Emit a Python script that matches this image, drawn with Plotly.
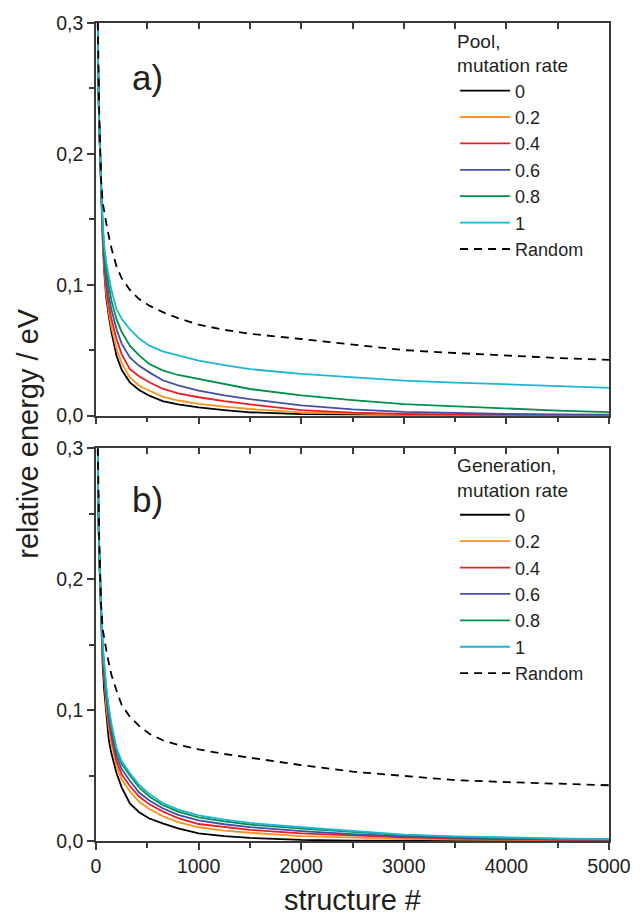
import plotly.graph_objects as go

# structure index where values were read
X = [0, 10, 20, 30, 40, 50, 65, 80, 100, 125, 150, 200, 250, 330, 420, 520, 650, 800,
     1000, 1250, 1500, 2000, 2500, 3000, 3500, 4000, 4500, 5000]

RATES = ["0", "0.2", "0.4", "0.6", "0.8", "1"]
COLORS = ["#000000", "#F7941D", "#ED1C24", "#3F51A3", "#00904A", "#1CB5D6"]

# panel a) pool
pool_0 = [0.55, 0.36, 0.27, 0.225, 0.195, 0.172, 0.135, 0.110, 0.090, 0.076, 0.064, 0.0457, 0.035, 0.0254,
          0.0195, 0.0152, 0.011, 0.0085, 0.0063, 0.0042, 0.0025, 0.0011, 0.0005, 0.0003, 0.0002, 0.0001, 0.0, 0.0]
pool_02 = [0.55, 0.36, 0.27, 0.225, 0.195, 0.173, 0.138, 0.113, 0.094, 0.079, 0.068, 0.0508, 0.040, 0.0292,
           0.023, 0.019, 0.0145, 0.0115, 0.0089, 0.0068, 0.005, 0.0025, 0.0014, 0.0008, 0.0005, 0.0003, 0.0002, 0.0001]
pool_04 = [0.55, 0.36, 0.27, 0.225, 0.195, 0.174, 0.140, 0.116, 0.098, 0.084, 0.074, 0.0584, 0.047, 0.0355,
           0.030, 0.0254, 0.0205, 0.017, 0.014, 0.011, 0.0085, 0.0042, 0.0022, 0.0012, 0.0007, 0.0004, 0.0003, 0.0002]
pool_06 = [0.55, 0.36, 0.27, 0.225, 0.196, 0.175, 0.142, 0.120, 0.104, 0.091, 0.081, 0.066, 0.055, 0.0444,
           0.038, 0.033, 0.027, 0.023, 0.019, 0.0155, 0.0125, 0.0078, 0.0048, 0.0028, 0.0018, 0.0012, 0.0009, 0.0007]
pool_08 = [0.55, 0.36, 0.27, 0.225, 0.196, 0.176, 0.145, 0.125, 0.111, 0.099, 0.088, 0.0737, 0.064, 0.0534,
           0.046, 0.0394, 0.0345, 0.031, 0.0279, 0.0238, 0.0203, 0.0155, 0.0118, 0.0088, 0.007, 0.0053, 0.0038, 0.0026]
pool_1 = [0.55, 0.36, 0.27, 0.225, 0.197, 0.177, 0.148, 0.130, 0.117, 0.105, 0.096, 0.0813, 0.074, 0.066,
          0.059, 0.0534, 0.049, 0.046, 0.0419, 0.0385, 0.0355, 0.0318, 0.029, 0.0267, 0.0252, 0.0238, 0.0225, 0.0212]
pool_random = [0.60, 0.40, 0.29, 0.235, 0.20, 0.18, 0.163, 0.155, 0.147, 0.137, 0.128, 0.114, 0.105, 0.096,
               0.089, 0.084, 0.079, 0.0745, 0.0695, 0.0655, 0.0625, 0.0585, 0.0545, 0.050, 0.0478, 0.0457, 0.044, 0.0425]

# panel b) generation
gen_0 = [0.55, 0.36, 0.27, 0.22, 0.19, 0.168, 0.135, 0.115, 0.095, 0.077, 0.067, 0.052, 0.041, 0.0287,
         0.022, 0.0172, 0.0135, 0.0097, 0.0059, 0.0038, 0.0024, 0.0008, 0.0003, 0.0002, 0.0001, 0.0, 0.0, 0.0]
gen_02 = [0.55, 0.36, 0.27, 0.225, 0.195, 0.174, 0.142, 0.122, 0.103, 0.087, 0.075, 0.057, 0.047, 0.038,
          0.030, 0.0245, 0.019, 0.0145, 0.0105, 0.008, 0.0063, 0.0038, 0.0025, 0.0016, 0.001, 0.0007, 0.0005, 0.0004]
gen_04 = [0.55, 0.36, 0.27, 0.225, 0.196, 0.175, 0.144, 0.125, 0.107, 0.091, 0.079, 0.061, 0.051, 0.042,
          0.034, 0.028, 0.0225, 0.0175, 0.013, 0.0105, 0.0085, 0.0058, 0.004, 0.0027, 0.0018, 0.0012, 0.0008, 0.0006]
gen_06 = [0.55, 0.36, 0.27, 0.225, 0.196, 0.176, 0.146, 0.128, 0.111, 0.095, 0.083, 0.065, 0.055, 0.046,
          0.037, 0.031, 0.025, 0.020, 0.0157, 0.0128, 0.0106, 0.0075, 0.0052, 0.0035, 0.0024, 0.0017, 0.0012, 0.001]
gen_08 = [0.55, 0.36, 0.27, 0.225, 0.197, 0.177, 0.148, 0.131, 0.115, 0.099, 0.087, 0.069, 0.059, 0.050,
          0.041, 0.034, 0.0275, 0.0225, 0.018, 0.015, 0.0126, 0.0095, 0.0068, 0.0045, 0.0031, 0.0022, 0.0016, 0.0012]
gen_1 = [0.55, 0.36, 0.27, 0.225, 0.197, 0.178, 0.150, 0.133, 0.118, 0.102, 0.090, 0.071, 0.061, 0.052,
         0.043, 0.036, 0.029, 0.024, 0.0195, 0.0163, 0.0138, 0.0105, 0.0077, 0.0048, 0.0036, 0.0026, 0.0019, 0.0015]
gen_random = [0.60, 0.40, 0.29, 0.235, 0.20, 0.18, 0.162, 0.154, 0.146, 0.136, 0.127, 0.115, 0.104, 0.095,
              0.088, 0.082, 0.077, 0.0735, 0.070, 0.0665, 0.0635, 0.058, 0.053, 0.0495, 0.0465, 0.045, 0.0438, 0.0426]

Y_TICKS = [0, 0.1, 0.2, 0.3]
Y_LABELS = ["0,0", "0,1", "0,2", "0,3"]
X_TICKS = [0, 1000, 2000, 3000, 4000, 5000]
X_LABELS = ["0", "1000", "2000", "3000", "4000", "5000"]

FONT = "Liberation Sans, Arial, Helvetica, sans-serif"
INK = "#231F20"
AX = "#3a3a3a"

fig = go.Figure()

panels = [
    ("x", "y", "legend", [pool_0, pool_02, pool_04, pool_06, pool_08, pool_1], pool_random),
    ("x2", "y2", "legend2", [gen_0, gen_02, gen_04, gen_06, gen_08, gen_1], gen_random),
]
for xa, ya, lg, series, rnd in panels:
    for name, col, ys in zip(RATES, COLORS, series):
        fig.add_trace(go.Scatter(x=X, y=ys, name=name, mode="lines", xaxis=xa, yaxis=ya,
                                 legend=lg, line=dict(color=col, width=1.8)))
    fig.add_trace(go.Scatter(x=X, y=rnd, name="Random", mode="lines", xaxis=xa, yaxis=ya,
                             legend=lg, line=dict(color="#000000", width=1.8, dash="8px,6px")))

# invisible traces so the inward top tick axes are drawn
fig.add_trace(go.Scatter(x=[None], y=[None], xaxis="x3", yaxis="y", showlegend=False, hoverinfo="skip"))
fig.add_trace(go.Scatter(x=[None], y=[None], xaxis="x4", yaxis="y2", showlegend=False, hoverinfo="skip"))

top_dom = [0.5201, 1.0]
bot_dom = [0.0, 0.4799]

xcommon = dict(range=[0, 5000], tickvals=X_TICKS, ticks="outside", ticklen=7, tickwidth=1.5,
               tickcolor=AX, showline=True, linecolor=AX, linewidth=1.6, mirror=True,
               showgrid=False, zeroline=False,
               minor=dict(ticks="outside", dtick=500, tick0=0, ticklen=5, tickwidth=1.5, tickcolor=AX))
ycommon = dict(range=[0, 0.3], tickvals=Y_TICKS, ticktext=Y_LABELS, ticks="outside", ticklen=7,
               tickwidth=1.5, tickcolor=AX, showline=True, linecolor=AX, linewidth=1.6, mirror=True,
               showgrid=False, zeroline=False, tickfont=dict(size=19.5, color=INK, family=FONT),
               minor=dict(ticks="outside", dtick=0.05, tick0=0, ticklen=5, tickwidth=1.5, tickcolor=AX))
topticks = dict(range=[0, 5000], side="top", ticks="inside", ticklen=6, tickwidth=1.5, tickcolor=AX,
                dtick=500, tick0=0, showticklabels=False, showline=False, showgrid=False, zeroline=False)

legend_common = dict(xanchor="left", yanchor="top", bgcolor="rgba(0,0,0,0)",
                     font=dict(size=18, family=FONT, color=INK), tracegroupgap=0, itemwidth=50)

fig.update_layout(
    width=643, height=918,
    margin=dict(l=96, r=26, t=20, b=77),
    paper_bgcolor="white", plot_bgcolor="white",
    font=dict(family=FONT, color=INK, size=19),
    xaxis=dict(xcommon, domain=[0, 1], anchor="y", showticklabels=False),
    yaxis=dict(ycommon, domain=top_dom, anchor="x"),
    xaxis2=dict(xcommon, domain=[0, 1], anchor="y2", ticktext=X_LABELS,
                tickfont=dict(size=19.5, color=INK, family=FONT)),
    yaxis2=dict(ycommon, domain=bot_dom, anchor="x2"),
    xaxis3=dict(topticks, overlaying="x", anchor="y"),
    xaxis4=dict(topticks, overlaying="x2", anchor="y2"),
    legend=dict(legend_common, x=0.70, y=1.0,
                title=dict(text="Pool,<br>mutation rate", font=dict(size=19, family=FONT, color=INK))),
    legend2=dict(legend_common, x=0.70, y=0.4815,
                 title=dict(text="Generation,<br>mutation rate", font=dict(size=19, family=FONT, color=INK))),
    annotations=[
        dict(text="a)", x=0.1008, y=0.258, xref="x domain", yref="y", xanchor="center", yanchor="middle",
             showarrow=False, font=dict(size=35, family=FONT, color=INK)),
        dict(text="b)", x=0.1008, y=0.261, xref="x2 domain", yref="y2", xanchor="center", yanchor="middle",
             showarrow=False, font=dict(size=35, family=FONT, color=INK)),
        dict(text="relative energy / eV", x=-0.132, y=0.4982, xref="paper", yref="paper", textangle=-90,
             xanchor="center", yanchor="middle", showarrow=False, font=dict(size=29, family=FONT, color=INK)),
        dict(text="structure #", x=0.5, y=-0.072, xref="paper", yref="paper", xanchor="center",
             yanchor="middle", showarrow=False, font=dict(size=29, family=FONT, color=INK)),
    ],
)

# page body margin off so the figure fills the window exactly
fig.write_html("out.html", config={"displayModeBar": False},
               post_script="document.body.style.margin='0';")
